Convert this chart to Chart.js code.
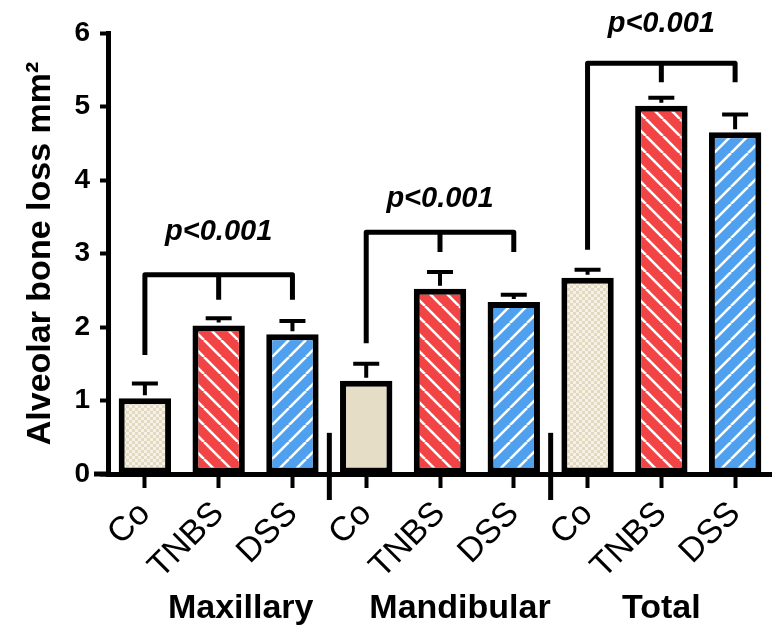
<!DOCTYPE html>
<html>
<head>
<meta charset="utf-8">
<script src="https://cdn.jsdelivr.net/npm/chart.js@4"></script>
<style>
  body { margin: 0; background: #fff; }
  #wrap { width: 772px; height: 633px; }
</style>
</head>
<body>
<div id="wrap"><canvas id="bone-chart" width="772" height="633"></canvas></div>
<script>
// data
const groups = ["Maxillary", "Mandibular", "Total"];
const treatments = ["Co", "TNBS", "DSS"];
const maxillary = [1.03, 2.02, 1.90];
const mandibular = [1.27, 2.52, 2.34];
const total = [2.67, 5.01, 4.65];
const maxillaryErr = [0.20, 0.10, 0.18];
const mandibularErr = [0.23, 0.23, 0.10];
const totalErr = [0.11, 0.11, 0.24];
const yTicks = [0, 1, 2, 3, 4, 5, 6];
// significance brackets, one per group (values in mm2)
const bracketTop = [2.71, 3.29, 5.59];
const bracketLeftEnd = [1.62, 1.78, 3.05];
const bracketRightEnd = [2.37, 3.02, 5.33];
const pText = ["p<0.001", "p<0.001", "p<0.001"];
const pTextAt = [3.29, 3.74, 6.12];

const labels = [...treatments, ...treatments, ...treatments];
const means = [...maxillary, ...mandibular, ...total];
const errs = [...maxillaryErr, ...mandibularErr, ...totalErr];

function stripes(bg, dir) {
  const s = 17;
  const c = document.createElement("canvas");
  c.width = s; c.height = s;
  const x = c.getContext("2d");
  x.fillStyle = bg;
  x.fillRect(0, 0, s, s);
  x.strokeStyle = "#fff";
  x.lineWidth = 2.6;
  x.beginPath();
  if (dir > 0) { // "/" direction
    for (let k = -1; k <= 1; k++) { x.moveTo(k * s, s); x.lineTo(k * s + s, 0); }
  } else { // "\" direction
    for (let k = -1; k <= 1; k++) { x.moveTo(k * s, 0); x.lineTo(k * s + s, s); }
  }
  x.stroke();
  return x.createPattern(c, "repeat");
}
function checker(a, b) {
  const c = document.createElement("canvas");
  c.width = 6; c.height = 6;
  const x = c.getContext("2d");
  x.fillStyle = a; x.fillRect(0, 0, 6, 6);
  x.fillStyle = b; x.fillRect(0, 0, 3, 3); x.fillRect(3, 3, 3, 3);
  return x.createPattern(c, "repeat");
}
const coDots = checker("#E4D9BF", "#F6F1E6");
const coPlain = "#E6DDC6";
const red = stripes("#F24444", -1);
const blue = stripes("#4FA0EE", 1);
const fills = [coDots, red, blue, coPlain, red, blue, coDots, red, blue];

const FONT = "Arial, 'Liberation Sans', sans-serif";

const extras = {
  id: "extras",
  afterDatasetsDraw(chart) {
    const ctx = chart.ctx, xs = chart.scales.x, ys = chart.scales.y;
    ctx.save();
    ctx.strokeStyle = "#000";
    ctx.lineCap = "butt";
    // error bars (upper only)
    ctx.lineWidth = 4;
    means.forEach((m, i) => {
      const x = xs.getPixelForValue(i);
      const y0 = ys.getPixelForValue(m) - 3;
      const y1 = ys.getPixelForValue(m + errs[i]);
      ctx.beginPath();
      ctx.moveTo(x, y0); ctx.lineTo(x, y1);
      ctx.moveTo(x - 13, y1); ctx.lineTo(x + 13, y1);
      ctx.stroke();
    });
    ctx.restore();
  },
  afterDraw(chart) {
    const ctx = chart.ctx, xs = chart.scales.x, ys = chart.scales.y;
    ctx.save();
    ctx.strokeStyle = "#000";
    ctx.fillStyle = "#000";
    // x axis line runs a little past the y axis, like the original
    ctx.lineWidth = 5;
    ctx.beginPath();
    ctx.moveTo(94, ys.getPixelForValue(0));
    ctx.lineTo(chart.chartArea.left, ys.getPixelForValue(0));
    ctx.stroke();
    // brackets + p text
    groups.forEach((g, k) => {
      const xl = xs.getPixelForValue(k * 3);
      const xm = xs.getPixelForValue(k * 3 + 1);
      const xr = xs.getPixelForValue(k * 3 + 2);
      const yt = ys.getPixelForValue(bracketTop[k]);
      ctx.lineWidth = 5;
      ctx.lineJoin = "round";
      ctx.beginPath();
      ctx.moveTo(xl, ys.getPixelForValue(bracketLeftEnd[k]));
      ctx.lineTo(xl, yt);
      ctx.lineTo(xr, yt);
      ctx.lineTo(xr, ys.getPixelForValue(bracketRightEnd[k]));
      ctx.moveTo(xm, yt);
      ctx.lineTo(xm, ys.getPixelForValue(bracketRightEnd[k]));
      ctx.stroke();
      ctx.font = "italic bold 29px " + FONT;
      ctx.textAlign = "center";
      ctx.textBaseline = "middle";
      ctx.fillText(pText[k], xm, ys.getPixelForValue(pTextAt[k]));
    });
    // axis breaks between groups
    ctx.lineWidth = 5;
    [2.5, 5.5].forEach(v => {
      const x = (xs.getPixelForValue(Math.floor(v)) + xs.getPixelForValue(Math.ceil(v))) / 2;
      ctx.beginPath();
      ctx.moveTo(x, ys.getPixelForValue(0.56));
      ctx.lineTo(x, ys.getPixelForValue(0) + 26);
      ctx.stroke();
    });
    // group names
    const shift = [22, 20, 0];
    ctx.font = "bold 34px " + FONT;
    ctx.textAlign = "center";
    ctx.textBaseline = "alphabetic";
    groups.forEach((g, k) => {
      ctx.fillText(g, xs.getPixelForValue(k * 3 + 1) + shift[k], 618);
    });
    ctx.restore();
  }
};

new Chart(document.getElementById("bone-chart"), {
  type: "bar",
  data: {
    labels: labels,
    datasets: [{
      data: means,
      backgroundColor: fills,
      borderColor: "#000",
      borderWidth: 6,
      borderSkipped: false,
      barPercentage: 0.71,
      categoryPercentage: 1.0
    }]
  },
  options: {
    responsive: false,
    animation: false,
    devicePixelRatio: 1,
    layout: { padding: { top: 33, right: 0, left: 0, bottom: 0 } },
    plugins: { legend: { display: false }, tooltip: { enabled: false } },
    scales: {
      x: {
        offset: true,
        grid: { offset: false, drawOnChartArea: false, drawTicks: true, tickLength: 14, tickWidth: 4, color: "#000" },
        border: { display: true, width: 5, color: "#000" },
        ticks: {
          autoSkip: false, maxRotation: 45, minRotation: 45, padding: 6,
          color: "#000", font: { family: FONT, size: 34 }
        },
        afterFit(s) { s.height = 159; }
      },
      y: {
        min: 0, max: 6,
        afterBuildTicks(s) { s.ticks = yTicks.map(v => ({ value: v })); },
        grid: { drawOnChartArea: false, drawTicks: true, tickLength: 8, tickWidth: 4, color: "#000" },
        border: { display: true, width: 5, color: "#000" },
        ticks: { color: "#000", padding: 10, font: { family: FONT, size: 28, weight: "bold" } },
        title: {
          display: true, text: "Alveolar bone loss mm²", color: "#000",
          padding: { top: 20, bottom: 0 },
          font: { family: FONT, size: 34, weight: "bold" }
        },
        afterFit(s) { s.width = 108; }
      }
    }
  },
  plugins: [extras]
});
</script>
</body>
</html>
